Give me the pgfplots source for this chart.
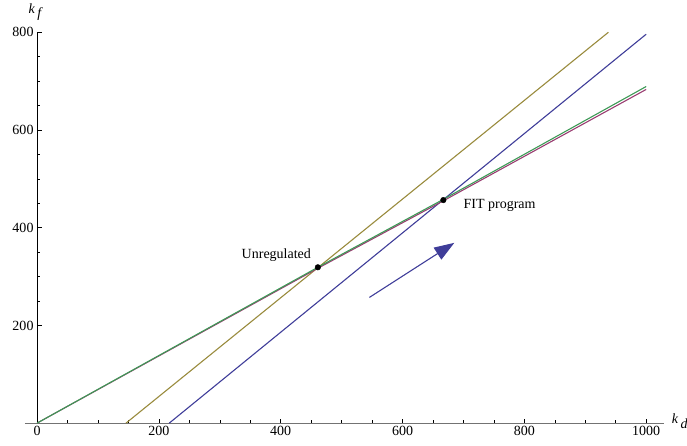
\documentclass[border=0pt]{standalone}
\usepackage{fontspec}
\setmainfont{Liberation Serif}
\usepackage{pgfplots}
\pgfplotsset{compat=1.18}
\usetikzlibrary{arrows.meta}
\definecolor{mblue}{rgb}{0.247,0.24,0.6}
\definecolor{mred}{rgb}{0.6,0.24,0.443}
\definecolor{molive}{rgb}{0.6,0.547,0.24}
\definecolor{mgreen}{rgb}{0.24,0.6,0.337}
\begin{document}
\begin{tikzpicture}
\begin{axis}[
  scale only axis=true,
  width=639.45pt, height=390.8pt,
  xmin=-20, xmax=1030, ymin=0, ymax=800,
  axis lines=middle,
  axis line style={-},
  x axis line style={draw=black!55, line width=1.1pt},
  y axis line style={draw=black, line width=0.6pt},
  xtick={0,200,...,1000}, ytick={200,400,600,800},
  minor x tick num=3, minor y tick num=3,
  tick align=inside,
  major tick length=4.5pt, minor tick length=2.8pt,
  tick style={black, line width=0.5pt},
  every tick label/.append style={font=\fontsize{14}{16}\selectfont},
  /pgf/number format/assume math mode=true,
  /pgf/number format/1000 sep={},
  clip=false,
]
\addplot[molive, line width=1.1pt] coordinates {(146,0) (938,800)};
\addplot[mblue, line width=1.1pt] coordinates {(217,0) (1000,796)};
\addplot[mred, line width=1.1pt] coordinates {(0,0) (461,317) (667,455) (1000,683)};
\addplot[mgreen, line width=1.1pt] coordinates {(0,0) (461,319) (667,458) (1000,689)};
\addplot[mblue, line width=1.1pt, -{Triangle[length=20pt,width=14pt]}] coordinates {(545.6,257.3) (685,369)};
\addplot[only marks, mark=*, mark size=2.8pt, black] coordinates {(461,319) (667,456.5)};
\node[anchor=east, inner sep=0pt, font=\fontsize{14}{16}\selectfont] at (axis cs:450,344) {Unregulated};
\node[anchor=west, inner sep=0pt, font=\fontsize{14}{16}\selectfont] at (axis cs:700,446) {FIT program};
\node[anchor=north, inner sep=0.3333em, font=\fontsize{14}{16}\selectfont] at (axis cs:0,0) {0};
\node[anchor=south, inner sep=0pt, font=\fontsize{14}{16}\selectfont] at (axis cs:-2,823) {\textit{k}\,\raisebox{-0.7ex}{\textit{f}}};
\node[anchor=west, inner sep=0pt, font=\fontsize{14}{16}\selectfont] at (axis cs:1042,4) {\textit{k}\,\raisebox{-0.7ex}{\textit{d}}};
\coordinate (BL) at (axis cs:-60.8,-45);
\coordinate (TR) at (axis cs:1067,866);
\end{axis}
\pgfresetboundingbox
\path[use as bounding box] (BL) rectangle (TR);
\end{tikzpicture}
\end{document}
